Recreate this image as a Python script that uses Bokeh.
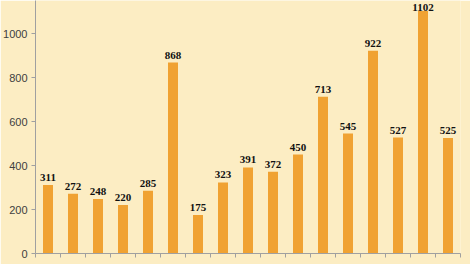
from bokeh.plotting import figure
from bokeh.models import ColumnDataSource, FixedTicker, Range1d, LabelSet
from bokeh.embed import file_html
from bokeh.resources import INLINE

values = [311, 272, 248, 220, 285, 868, 175, 323, 391, 372, 450, 713, 545, 922, 527, 1102, 525]
labels = [str(v) for v in values]
y_ticks = [0, 200, 400, 600, 800, 1000]

n = len(values)
y_top = 1150
x_centers = [i + 0.5 for i in range(n)]
# labels that would run past the top edge are nudged down so they stay readable
offsets = [4 if v < 1080 else 0 for v in values]
src = ColumnDataSource(dict(x=x_centers, top=values, lab=labels, off=offsets))

p = figure(width=470, height=264, output_backend="svg", toolbar_location=None,
           x_range=Range1d(0, n), y_range=Range1d(0, y_top),
           min_border_left=35, min_border_right=10, min_border_top=0, min_border_bottom=11)
p.background_fill_color = "#FCEDC3"
p.border_fill_color = "#FCEDC3"
p.outline_line_color = None
p.grid.visible = False

p.vbar(x="x", top="top", width=0.4, bottom=0, source=src, fill_color="#F0A232", line_color=None)

ls = LabelSet(x="x", y="top", text="lab", source=src, text_align="center", text_baseline="bottom",
              y_offset="off", text_font="Liberation Serif", text_font_style="bold",
              text_font_size="11px", text_color="#111111")
p.add_layout(ls)

p.yaxis.ticker = FixedTicker(ticks=y_ticks)
p.yaxis.axis_line_color = "#A0A0A0"
p.yaxis.major_tick_line_color = "#A0A0A0"
p.yaxis.major_tick_out = 4
p.yaxis.major_tick_in = 0
p.yaxis.minor_tick_line_color = None
p.yaxis.major_label_text_font = "Liberation Sans"
p.yaxis.major_label_text_font_size = "11px"
p.yaxis.major_label_text_color = "#404040"
p.yaxis.major_label_standoff = 4

p.xaxis.ticker = FixedTicker(ticks=list(range(n + 1)))
p.xaxis.axis_line_color = "#A0A0A0"
p.xaxis.major_tick_line_color = "#A0A0A0"
p.xaxis.major_tick_out = 4
p.xaxis.major_tick_in = 0
p.xaxis.minor_tick_line_color = None
p.xaxis.major_label_text_font_size = "0px"
p.xaxis.major_label_text_color = None

open("out.html", "w").write(file_html(p, INLINE))
